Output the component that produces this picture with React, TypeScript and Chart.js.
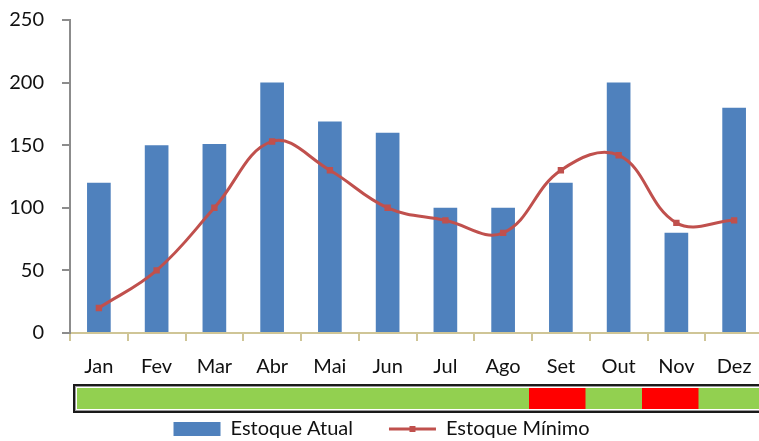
import React, { useEffect, useRef } from "react";
import { Chart, registerables } from "chart.js";

Chart.register(...registerables);

const months = ["Jan", "Fev", "Mar", "Abr", "Mai", "Jun", "Jul", "Ago", "Set", "Out", "Nov", "Dez"];
const estoqueAtual = [120, 150, 151, 200, 169, 160, 100, 100, 120, 200, 80, 180];
const estoqueMinimo = [20, 50, 100, 153, 130, 100, 90, 80, 130, 142, 88, 90];
const statusCells = ["ok", "ok", "ok", "ok", "ok", "ok", "ok", "ok", "low", "ok", "low", "ok"];
const yTicks = [0, 50, 100, 150, 200, 250];

const BLUE = "#4F81BD";
const RED = "#C0504D";
const GREEN_CELL = "#92D050";
const RED_CELL = "#FF0000";

const statusPlugin = {
  id: "statusBar",
  afterDraw(chart: any) {
    const ctx = chart.ctx;
    const ca = chart.chartArea;
    const left = ca.left + 4;
    const right = ca.right - 5;
    const outerRight = ca.right + 4;
    const top = ca.bottom + 52;
    const h = 27;
    ctx.save();
    ctx.fillStyle = "#ffffff";
    ctx.fillRect(left, top, outerRight - left, h);
    ctx.strokeStyle = "#1a1a1a";
    ctx.lineWidth = 2;
    ctx.strokeRect(left, top, outerRight - left, h);
    ctx.strokeStyle = "#9a9a9a";
    ctx.lineWidth = 1;
    ctx.strokeRect(left + 1.5, top + 1.5, outerRight - left - 3, h - 3);
    const iL = left + 3;
    const iW = right - left - 6;
    const cellW = iW / statusCells.length;
    statusCells.forEach((s, i) => {
      const last = i === statusCells.length - 1;
      const w = last ? outerRight - 3 - (iL + i * cellW) : cellW + 0.5;
      ctx.fillStyle = s === "low" ? RED_CELL : GREEN_CELL;
      ctx.fillRect(iL + i * cellW, top + 3, w, h - 6);
    });
    const legend = chart.legend;
    if (legend && legend.legendHitBoxes && legend.legendHitBoxes[1]) {
      const hb = legend.legendHitBoxes[1];
      const cx = hb.left + 47 / 2;
      const cy = hb.top + hb.height / 2;
      ctx.fillStyle = RED;
      ctx.fillRect(cx - 3, cy - 3, 6, 6);
    }
    ctx.restore();
  },
};

export default function App() {
  const ref = useRef<HTMLCanvasElement>(null);
  useEffect(() => {
    document.documentElement.style.overflow = "hidden";
    document.body.style.margin = "0";
    document.body.style.overflow = "hidden";
    Chart.defaults.font.family = "Lato, 'Open Sans', sans-serif";
    Chart.defaults.font.size = 20;
    Chart.defaults.color = "#111111";
    const chart = new Chart(ref.current as HTMLCanvasElement, {
      type: "bar",
      data: {
        labels: months,
        datasets: [
          {
            type: "bar",
            label: "Estoque Atual",
            data: estoqueAtual,
            backgroundColor: BLUE,
            borderWidth: 0,
            barPercentage: 0.41,
            categoryPercentage: 1,
            order: 1,
          },
          {
            type: "line",
            label: "Estoque Mínimo",
            data: estoqueMinimo,
            borderColor: RED,
            backgroundColor: RED,
            borderWidth: 3,
            tension: 0.4,
            pointStyle: "rect",
            pointRadius: 4.5,
            pointBackgroundColor: RED,
            pointBorderWidth: 0,
            order: 0,
          } as any,
        ],
      },
      options: {
        animation: false,
        responsive: true,
        maintainAspectRatio: false,
        layout: { padding: { top: 20, left: 0, right: 17, bottom: -8 } },
        plugins: {
          tooltip: { enabled: false },
          legend: {
            position: "bottom",
            labels: {
              usePointStyle: true,
              pointStyleWidth: 47,
              boxHeight: 14,
              padding: 36,
              font: { size: 20 },
              color: "#111111",
              sort: (a: any, b: any) => a.datasetIndex - b.datasetIndex,
              generateLabels: (chart: any) =>
                chart.data.datasets.map((ds: any, i: number) => ({
                  text: ds.label,
                  fillStyle: i === 0 ? BLUE : RED,
                  strokeStyle: i === 0 ? BLUE : RED,
                  lineWidth: i === 0 ? 0 : 3,
                  pointStyle: i === 0 ? "rect" : "line",
                  hidden: false,
                  datasetIndex: i,
                  fontColor: "#111111",
                })),
            },
          },
        },
        scales: {
          x: {
            offset: true,
            grid: {
              offset: true,
              drawOnChartArea: false,
              drawTicks: true,
              tickLength: 8,
              color: "#CFC596",
              lineWidth: 2,
            },
            border: { display: true, color: "#CFC596", width: 2 },
            ticks: { padding: 14, font: { size: 20 }, color: "#111111", maxRotation: 0, autoSkip: false },
            afterFit: (scale: any) => {
              scale.height = 50;
            },
          },
          y: {
            min: 0,
            max: 250,
            afterBuildTicks: (scale: any) => {
              scale.ticks = yTicks.map((v) => ({ value: v }));
            },
            grid: {
              drawOnChartArea: false,
              drawTicks: true,
              tickLength: 8,
              color: "#8C8C8C",
              lineWidth: 2,
            },
            border: { display: true, color: "#8C8C8C", width: 2 },
            ticks: { padding: 18, font: { size: 20 }, color: "#111111" },
            afterFit: (scale: any) => {
              scale.width = 70;
              scale.paddingTop = 0;
              scale.paddingBottom = 0;
            },
          },
        },
      },
      plugins: [statusPlugin],
    });
    return () => chart.destroy();
  }, []);
  return (
    <div style={{ position: "fixed", left: 0, top: 0, width: 780, height: 441 }}>
      <canvas ref={ref} />
    </div>
  );
}
